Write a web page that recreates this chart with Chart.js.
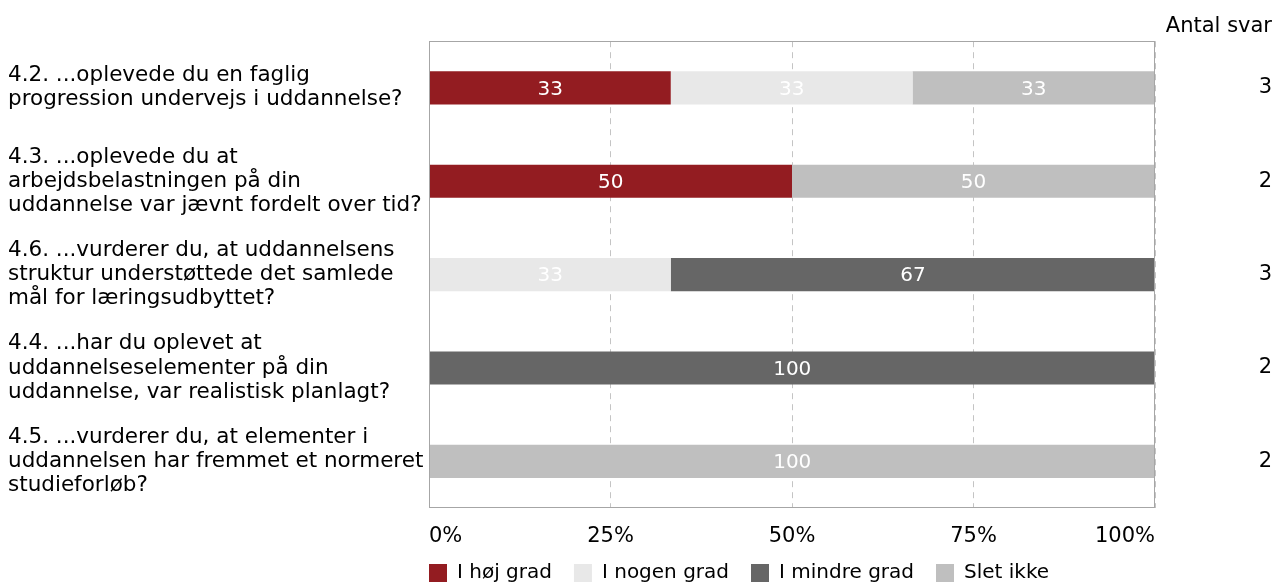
<!DOCTYPE html>
<html>
<head>
<meta charset="utf-8">
<script src="https://cdn.jsdelivr.net/npm/chart.js@4/dist/chart.umd.min.js"></script>
<style>
    html, body { margin: 0; padding: 0; overflow: hidden; background: #fff; }
    #boks { width: 1276px; height: 602px; position: relative; }
</style>
</head>
<body>
<div id="boks"><canvas id="grafik"></canvas></div>
<script>
const kategorier = [
    ["4.2. ...oplevede du en faglig", "progression undervejs i uddannelse?"],
    ["4.3. ...oplevede du at", "arbejdsbelastningen på din", "uddannelse var jævnt fordelt over tid?"],
    ["4.6. ...vurderer du, at uddannelsens", "struktur understøttede det samlede", "mål for læringsudbyttet?"],
    ["4.4. ...har du oplevet at", "uddannelseselementer på din", "uddannelse, var realistisk planlagt?"],
    ["4.5. ...vurderer du, at elementer i", "uddannelsen har fremmet et normeret", "studieforløb?"]
];
const hojGrad = [33.3, 50, 0, 0, 0];
const nogenGrad = [33.3, 0, 33.3, 0, 0];
const mindreGrad = [0, 0, 66.7, 100, 0];
const sletIkke = [33.4, 50, 0, 0, 100];
const antalSvar = ["3", "2", "3", "2", "2"];
const procentTicks = [0, 25, 50, 75, 100];

const skrift = "'DejaVu Sans', Verdana, sans-serif";
const legendPad = 22;

// tal inde i søjlerne
const vaerdiTekst = {
    id: "vaerdiTekst",
    afterDatasetsDraw(chart) {
        const ctx = chart.ctx;
        ctx.save();
        ctx.font = "20px " + skrift;
        ctx.fillStyle = "#ffffff";
        ctx.textAlign = "center";
        ctx.textBaseline = "middle";
        chart.data.datasets.forEach((ds, i) => {
            chart.getDatasetMeta(i).data.forEach((bar, j) => {
                const v = ds.data[j];
                if (!v) return;
                ctx.fillText(Math.round(v), (bar.x + bar.base) / 2, bar.y + 1.5);
            });
        });
        ctx.restore();
    }
};

// ramme om plotområdet; legend flyttes ind under plottets venstre kant og lidt op
const ramme = {
    id: "ramme",
    afterLayout(chart) {
        const lg = chart.legend;
        if (lg) {
            lg.left -= legendPad;
            lg.right -= legendPad;
            lg.top -= 9;
            lg.bottom -= 9;
        }
    },
    afterDraw(chart) {
        const a = chart.chartArea;
        const ctx = chart.ctx;
        ctx.save();
        ctx.strokeStyle = "#a6a6a6";
        ctx.lineWidth = 1;
        ctx.strokeRect(Math.round(a.left) + 0.5, Math.round(a.top) + 0.5,
            Math.round(a.right - a.left) - 1, Math.round(a.bottom - a.top) - 1);
        ctx.restore();
    }
};

const faelles = { barPercentage: 0.355, categoryPercentage: 1 };

new Chart(document.getElementById("grafik"), {
    type: "bar",
    data: {
        labels: kategorier,
        datasets: [
            { label: "I høj grad", data: hojGrad, backgroundColor: "#931c21", ...faelles },
            { label: "I nogen grad", data: nogenGrad, backgroundColor: "#e8e8e8", ...faelles },
            { label: "I mindre grad", data: mindreGrad, backgroundColor: "#666666", ...faelles },
            { label: "Slet ikke", data: sletIkke, backgroundColor: "#bfbfbf", ...faelles }
        ]
    },
    options: {
        indexAxis: "y",
        responsive: true,
        maintainAspectRatio: false,
        animation: false,
        layout: { padding: { left: 8, right: 4, top: 0, bottom: 0 } },
        scales: {
            x: {
                stacked: true,
                min: 0,
                max: 100,
                afterBuildTicks: (ax) => { ax.ticks = procentTicks.map(v => ({ value: v })); },
                afterFit: (ax) => { ax.height = 42; },
                ticks: {
                    callback: (v) => v + "%",
                    align: "inner",
                    padding: 16,
                    color: "#000",
                    font: { family: skrift, size: 21 }
                },
                grid: { color: "#c4c4c4", drawTicks: false },
                border: { display: false, dash: [6, 5] }
            },
            y: {
                stacked: true,
                afterFit: (ax) => { ax.width = 421; },
                grid: { display: false, drawTicks: false },
                border: { display: false },
                ticks: {
                    crossAlign: "far",
                    padding: 0,
                    color: "#000",
                    font: { family: skrift, size: 21.5, lineHeight: 1.12 }
                }
            },
            y2: {
                type: "category",
                position: "right",
                labels: antalSvar,
                offset: true,
                afterFit: (ax) => { ax.width = 117; },
                grid: { display: false, drawTicks: false },
                border: { display: false },
                ticks: {
                    crossAlign: "far",
                    padding: 0,
                    color: "#000",
                    font: { family: skrift, size: 21 }
                }
            }
        },
        plugins: {
            title: {
                display: true,
                text: "Antal svar",
                align: "end",
                color: "#000",
                font: { family: skrift, size: 21, weight: "normal" },
                padding: { top: 14, bottom: 2 }
            },
            legend: {
                position: "bottom",
                align: "start",
                fullSize: false,
                labels: {
                    boxWidth: 18,
                    boxHeight: 18,
                    padding: legendPad,
                    color: "#000",
                    font: { family: skrift, size: 20 }
                }
            },
            tooltip: { enabled: false }
        }
    },
    plugins: [vaerdiTekst, ramme]
});
</script>
</body>
</html>
